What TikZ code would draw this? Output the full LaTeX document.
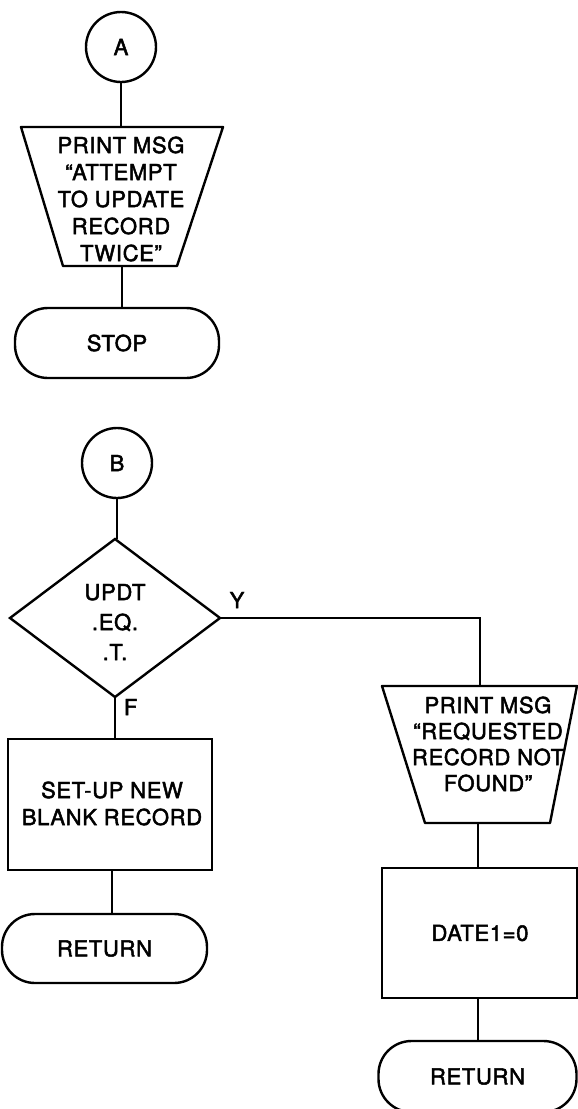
\documentclass[tikz,border=0pt]{standalone}
\usepackage{fontspec}
\setmainfont{TeX Gyre Heros}[FakeBold=2.2, LetterSpace=3]
\usetikzlibrary{shapes.geometric}
\begin{document}
\begin{tikzpicture}[x=1pt,y=-1pt,
  every node/.style={inner sep=0pt, outer sep=0pt},
  txt/.style={font=\fontsize{22}{27}\selectfont, align=center},
  lbl/.style={font=\fontsize{22}{27}\selectfont},
  connector/.style={draw, circle, line width=2.4pt, minimum size=70pt, font=\fontsize{22}{27}\selectfont},
  frame/.style={rectangle, minimum width=#1},
  procbox/.style={draw, rectangle, line width=2.4pt},
  terminal/.style={draw, rectangle, rounded corners=33pt, line width=2.4pt, font=\fontsize{22}{27}\selectfont},
  decision/.style={draw, diamond, line width=2.4pt},
  edge/.style={line width=2pt},
  outline/.style={line width=2.4pt, line join=round}
]
\useasboundingbox (0,0) rectangle (578,1109);

% ---------- entry A ----------
\node[connector] (A) at (121,47) {A};

\node[frame=202pt, minimum height=139pt] (msgA) at (122,196.5) {};
\draw[outline] (msgA.north west) -- (msgA.north east)
  -- ([xshift=-46pt]msgA.south east) -- ([xshift=42pt]msgA.south west) -- cycle;
\node[txt] (msgAtext) at (121,199) {PRINT MSG\\``ATTEMPT\\TO UPDATE\\RECORD\\TWICE''};

\node[terminal, minimum width=204pt, minimum height=70pt] (stop) at (117,343) {STOP};

\draw[edge] (A.south) -- (A.south |- msgA.north);
\draw[edge] (msgA.south) -- (msgA.south |- stop.north);

% ---------- entry B ----------
\node[connector] (B) at (117,463) {B};

\node[decision, minimum width=210pt, minimum height=158pt] (dec) at (115,618) {};
\node[txt, font=\fontsize{22}{30}\selectfont] (dectext) at (115,622) {UPDT\\.EQ.\\.T.};

\node[procbox, minimum width=204pt, minimum height=131pt] (setup) at (110,804.5) {};
\node[txt] (setuptext) at (112,803.5) {SET-UP NEW\\BLANK RECORD};

\node[terminal, minimum width=205pt, minimum height=69pt] (retL) at (104.5,948.5) {RETURN};

\node[frame=195pt, minimum height=137pt] (msgB) at (479.5,754.5) {};
\draw[outline] (msgB.north west) -- (msgB.north east)
  -- ([xshift=-27pt]msgB.south east) -- ([xshift=43pt]msgB.south west) -- cycle;
\node[txt, font=\fontsize{22}{26}\selectfont] (msgBtext) at (488,744) {PRINT MSG\\``REQUESTED\\RECORD NOT\\FOUND''};

\node[procbox, minimum width=195pt, minimum height=130pt] (date) at (479.5,933) {};
\node[txt] (datetext) at (480,933) {DATE1=0};

\node[terminal, minimum width=198pt, minimum height=71pt] (retR) at (477.5,1076.5) {RETURN};

\draw[edge] (B.south) -- (B.south |- dec.north);
\draw[edge] (dec.south) -- (dec.south |- setup.north);
\draw[edge] (setup.south -| 112,0) -- (112,0 |- retL.north);
\draw[edge] (dec.east) -| (msgB.north);
\draw[edge] (msgB.south -| 478,0) -- (478,0 |- date.north);
\draw[edge] (date.south -| 478,0) -- (478,0 |- retR.north);

\node[lbl] (Ylbl) at (237,600) {Y};
\node[lbl, anchor=west] (Flbl) at (124,707) {F};
\end{tikzpicture}
\end{document}
